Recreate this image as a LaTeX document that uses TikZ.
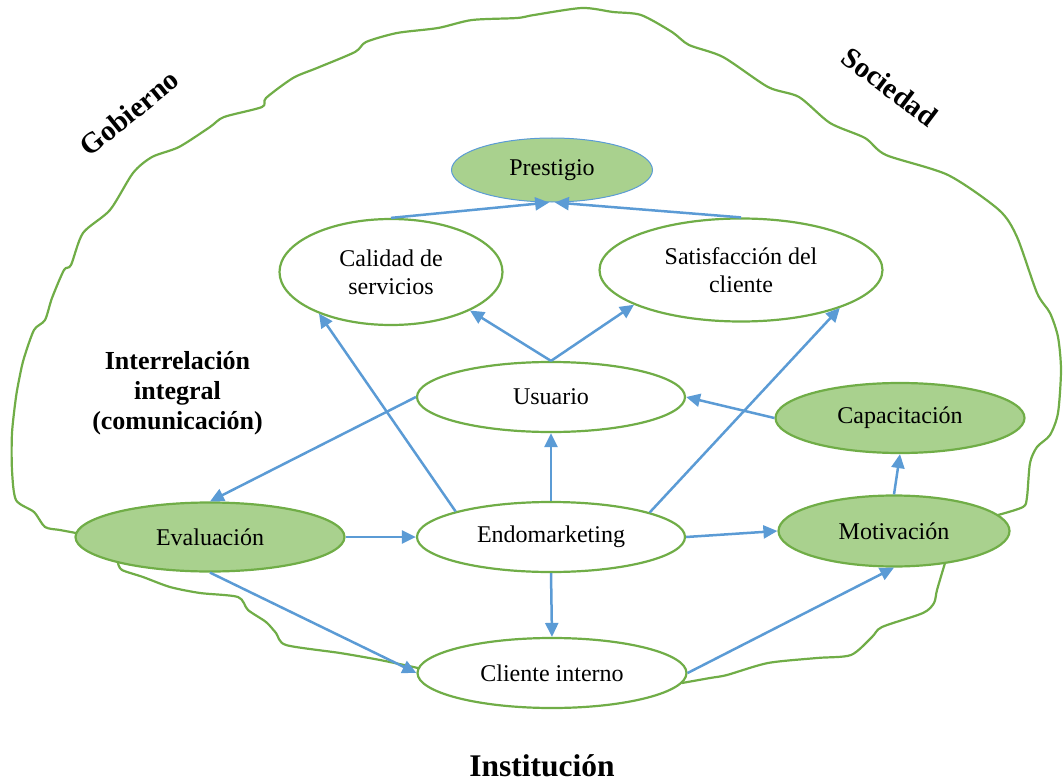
\documentclass[tikz,border=0pt]{standalone}
\usepackage{fontspec}
\setmainfont{Liberation Serif}
\usetikzlibrary{shapes.geometric,arrows.meta}
\definecolor{leaf}{HTML}{70AD47}
\definecolor{leaffill}{HTML}{A9D18E}
\definecolor{sky}{HTML}{5B9BD5}
\begin{document}
\begin{tikzpicture}[x=1pt,y=-1pt,
  oval/.style={ellipse, draw=leaf, line width=2.2pt, fill=white, inner sep=0pt,
    font=\fontsize{24}{28}\selectfont, align=center},
  ovalg/.style={oval, fill=leaffill},
  link/.style={draw=sky, line width=2.5pt, -{Triangle[length=14pt,width=13pt]}},
  rim/.style={draw=leaf, line width=2.2pt, line join=round, line cap=round},
  tag/.style={font=\bfseries\fontsize{29}{34}\selectfont}]
\useasboundingbox (0,0) rectangle (1063,781);

% hand-drawn outline of the environment
\draw[rim] plot[smooth, tension=0.45] coordinates {
  (76,533) (60,530) (45,527) (34,512) (16,500) (12,470) (12,433) (16,397)
  (20,375) (24,358) (34,330) (45,320) (52,298) (64,270) (71,265) (83,233)
  (110,210) (133,173) (152,157) (179,147) (210,127) (224,117) (262,107)
  (266,98) (293,78) (317,68) (355,52) (366,42) (397,33) (438,28) (472,20)
  (517,18) (534,15) (582,8) (613,12) (641,15) (672,32) (689,45) (723,57)
  (768,87) (799,97) (830,123) (865,138) (886,155) (948,175) (999,210)
  (1017,237) (1037,293) (1050,313) (1058,337) (1061,370) (1058,413)
  (1050,435) (1037,447) (1030,463) (1027,497) (1023,507) (998,515)};
\draw[rim] plot[smooth, tension=0.45] coordinates {
  (945,563) (937,590) (934,603) (923,613) (882,627) (872,637) (851,655)
  (817,658) (768,663) (727,675) (710,678) (682,683)};
\draw[rim] plot[smooth, tension=0.45] coordinates {
  (418,668) (380,660) (340,653) (286,645) (276,633) (266,622) (248,610)
  (238,597) (200,593) (170,587) (143,577) (122,570) (118,563)};

% nodes
\node[ovalg, draw=sky, line width=1pt, minimum width=201pt, minimum height=64pt] (pres) at (552,170) {Prestigio};
\node[oval, minimum width=223pt, minimum height=106pt] (cal) at (391,272) {Calidad de\\servicios};
\node[oval, minimum width=283pt, minimum height=103pt] (sat) at (741,270) {Satisfacción del\\cliente};
\node[oval, minimum width=268pt, minimum height=70pt] (usu) at (551,397) {Usuario};
\node[ovalg, minimum width=249pt, minimum height=70pt] (cap) at (900,418) {Capacitación};
\node[ovalg, minimum width=269pt, minimum height=69pt] (eva) at (210,537) {Evaluación};
\node[oval, minimum width=268pt, minimum height=70pt] (endo) at (551,537) {Endomarketing};
\node[ovalg, minimum width=231pt, minimum height=71pt] (mot) at (894,531) {Motivación};
\node[oval, minimum width=269pt, minimum height=70pt] (cli) at (552,673) {Cliente interno};

% labels
\node[tag, rotate=39] (gob) at (129,113) {Gobierno};
\node[tag, rotate=-37] (soc) at (890,87) {Sociedad};
\node[font=\bfseries\fontsize{26}{30}\selectfont, align=center] (inter) at (177.5,393)
  {Interrelación\\integral\\(comunicación)};
\node[font=\bfseries\fontsize{31.5}{36}\selectfont, anchor=base] (inst) at (542,776) {Institución};

% connectors
\draw[link] (cal.north) -- (pres.-95);
\draw[link] (sat.north) -- (pres.-85);
\draw[link] (usu.north) -- (cal.-26);
\draw[link] (usu.north) -- (sat.198.6);
\draw[link] (endo.165.4) -- (cal.210.4);
\draw[link] (endo.14.7) -- (sat.-21.3);
\draw[link] (usu.west) -- (eva.north);
\draw[link] (endo.north) -- (usu.south);
\draw[link] (cap.west) -- (usu.east);
\draw[link] (mot.north) -- (cap.south);
\draw[link] (eva.east) -- (endo.west);
\draw[link] (endo.east) -- (mot.west);
\draw[link] (endo.south) -- (cli.north);
\draw[link] (eva.south) -- (cli.west);
\draw[link] (cli.east) -- (mot.south);
\end{tikzpicture}
\end{document}
